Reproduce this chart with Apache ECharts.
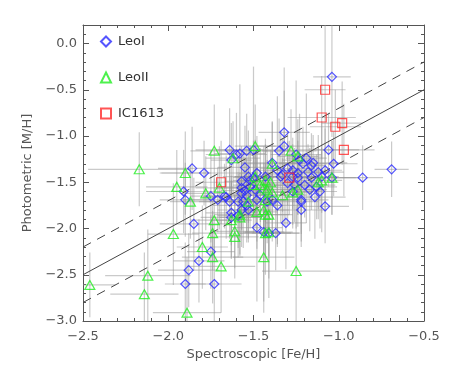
<!DOCTYPE html>
<html>
<head>
<meta charset="utf-8">
<script src="https://cdn.jsdelivr.net/npm/echarts@6/dist/echarts.min.js"></script>
<style>html,body{margin:0;padding:0;background:#fff;}#c{width:449px;height:374px;}</style>
</head>
<body>
<div id="c"></div>
<script>
// [FeH_spec, MH_phot, errX, errY]
const leoI = [
[-1.04,-0.36,0.11,0.65],[-1.32,-0.96,0.15,0.45],[-0.86,-1.45,0.12,0.35],[-0.69,-1.36,0.10,0.30],
[-1.06,-1.15,0.18,0.40],[-1.03,-1.30,0.14,0.35],[-1.64,-1.15,0.20,0.45],[-1.58,-1.19,0.15,0.75],
[-1.54,-1.16,0.12,0.40],[-1.50,-1.15,0.22,0.90],[-1.32,-1.11,0.18,0.85],[-1.35,-1.16,0.10,0.35],
[-1.25,-1.20,0.15,0.80],[-1.19,-1.24,0.12,0.70],[-1.15,-1.29,0.20,0.30],[-1.23,-1.26,0.10,0.50],
[-1.16,-1.32,0.08,0.35],[-1.21,-1.30,0.14,0.40],[-1.39,-1.29,0.18,0.45],[-1.36,-1.37,0.12,0.80],
[-1.30,-1.35,0.16,0.40],[-1.27,-1.37,0.10,0.35],[-1.24,-1.40,0.20,0.45],[-1.18,-1.39,0.12,0.30],
[-1.12,-1.39,0.15,0.40],[-1.08,-1.37,0.10,0.45],[-1.34,-1.44,0.22,0.50],[-1.24,-1.45,0.12,0.40],
[-1.16,-1.45,0.18,0.35],[-1.10,-1.44,0.10,0.60],[-1.04,-1.45,0.14,0.40],[-1.55,-1.34,0.16,0.45],
[-1.63,-1.26,0.12,0.40],[-1.79,-1.40,0.25,0.35],[-1.86,-1.35,0.20,0.45],[-1.53,-1.44,0.15,0.50],
[-1.48,-1.40,0.12,0.40],[-1.43,-1.44,0.18,0.35],[-1.91,-1.60,0.22,0.45],[-1.90,-1.69,0.15,0.40],
[-1.75,-1.65,0.12,0.50],[-1.71,-1.69,0.20,0.35],[-1.66,-1.66,0.14,0.45],[-1.64,-1.71,0.18,0.40],
[-1.57,-1.49,0.10,0.35],[-1.57,-1.56,0.16,0.45],[-1.54,-1.64,0.12,0.40],[-1.56,-1.71,0.20,0.50],
[-1.57,-1.80,0.14,0.40],[-1.53,-1.80,0.10,0.35],[-1.63,-1.88,0.18,0.45],[-1.48,-1.99,0.15,0.80],
[-1.44,-2.04,0.12,0.75],[-1.46,-1.64,0.16,0.35],[-1.42,-1.71,0.10,0.45],[-1.50,-1.45,0.12,0.40],
[-1.52,-1.55,0.18,0.45],[-1.55,-1.59,0.14,0.35],[-1.49,-1.58,0.10,0.40],[-1.48,-1.69,0.16,0.45],
[-1.59,-1.71,0.12,0.50],[-1.54,-1.75,0.20,0.40],[-1.63,-1.83,0.15,0.35],[-1.59,-1.86,0.12,0.45],
[-1.37,-2.05,0.14,0.40],[-1.41,-2.05,0.18,0.70],[-1.31,-1.94,0.12,0.50],[-1.22,-1.80,0.15,0.40],
[-1.22,-1.71,0.10,0.35],[-1.14,-1.66,0.18,0.45],[-1.08,-1.76,0.14,0.40],[-1.13,-1.55,0.12,0.35],
[-1.36,-1.75,0.16,0.45],[-1.85,-1.95,0.20,0.50],[-1.82,-2.35,0.15,0.45],[-1.88,-2.45,0.18,0.40],
[-1.90,-2.60,0.12,0.45],[-1.73,-2.60,0.16,0.50],[-1.75,-2.25,0.14,0.40],[-1.67,-1.65,0.12,0.35],
[-1.39,-1.69,0.15,0.45],[-1.27,-1.60,0.12,0.40],[-1.11,-1.60,0.10,0.40],[-1.22,-1.69,0.16,0.45],
[-1.33,-1.42,0.12,0.40],[-1.27,-1.44,0.14,0.35],[-1.60,-1.20,0.18,0.45],[-1.57,-1.62,0.12,0.40],
[-1.52,-1.48,0.10,0.35],[-1.30,-1.51,0.15,0.45],[-1.26,-1.53,0.12,0.40],[-1.20,-1.53,0.18,0.35],
[-1.17,-1.58,0.10,0.45]
];
const leoII = [
[-2.46,-2.61,0.15,0.35],[-2.14,-2.71,0.20,0.45],[-2.12,-2.51,0.25,0.50],[-2.17,-1.36,0.30,0.40],
[-1.97,-2.06,0.15,0.55],[-1.89,-2.91,0.20,0.60],[-1.87,-1.71,0.12,0.40],[-1.80,-2.20,0.15,0.45],
[-1.74,-2.31,0.18,0.50],[-1.74,-2.05,0.12,0.40],[-1.73,-1.91,0.14,0.45],[-1.69,-2.41,0.20,0.50],
[-1.78,-1.62,0.12,0.40],[-1.90,-1.40,0.15,0.45],[-1.95,-1.55,0.18,0.40],[-1.73,-1.16,0.14,0.50],
[-1.49,-1.11,0.12,0.45],[-1.62,-1.24,0.16,0.40],[-1.28,-1.16,0.15,0.45],[-1.24,-1.22,0.12,0.40],
[-1.39,-1.30,0.18,0.45],[-1.04,-1.45,0.15,0.40],[-1.10,-1.48,0.12,0.35],[-1.61,-2.09,0.14,0.45],
[-1.61,-2.03,0.12,0.40],[-1.44,-2.31,0.18,0.60],[-1.25,-2.46,0.20,0.70],[-1.43,-2.05,0.15,0.45],
[-1.63,-1.91,0.12,0.40],[-1.43,-1.85,0.16,0.45],[-1.48,-1.82,0.12,0.40],[-1.58,-1.85,0.15,0.45],
[-1.33,-1.64,0.14,0.40],[-1.27,-1.61,0.12,0.35],[-1.39,-1.61,0.16,0.45],[-1.49,-1.44,0.12,0.40],
[-1.43,-1.48,0.15,0.45],[-1.46,-1.53,0.12,0.40],[-1.40,-1.50,0.14,0.35],[-1.42,-1.58,0.16,0.45],
[-1.43,-1.69,0.12,0.40],[-1.44,-1.80,0.15,0.45],[-1.12,-1.50,0.12,0.40],[-1.70,-1.56,0.14,0.45],
[-1.53,-1.71,0.12,0.40],[-1.44,-1.56,0.16,0.45],[-1.50,-1.53,0.12,0.35],[-1.24,-1.58,0.15,0.40],
[-1.41,-1.85,0.12,0.45],[-1.41,-2.04,0.14,0.50],[-1.58,-1.88,0.12,0.40]
];
const ic1613 = [
[-1.08,-0.50,0.12,0.90],[-1.10,-0.80,0.20,0.45],[-1.02,-0.90,0.15,0.40],[-0.98,-0.86,0.12,0.45],
[-0.97,-1.15,0.18,0.50],[-1.29,-1.45,0.12,0.40],[-1.69,-1.50,0.15,0.45]
];
const seriesNames = ['LeoI','LeoII','IC1613'];
const oneToOne = [[-2.5,-2.5],[-0.5,-0.5]];
const upperLine = [[-2.5,-2.2],[-0.5,-0.2]];
const lowerLine = [[-2.5,-2.8],[-0.5,-0.8]];
const xTicks = [-2.5,-2.0,-1.5,-1.0,-0.5];
const yTicks = [-3.0,-2.5,-2.0,-1.5,-1.0,-0.5,0.0];
const yMinorTicks = [-2.9,-2.8,-2.7,-2.6,-2.4,-2.3,-2.2,-2.1,-1.9,-1.8,-1.7,-1.6,-1.4,-1.3,-1.2,-1.1,-0.9,-0.8,-0.7,-0.6,-0.4,-0.3,-0.2,-0.1,0.1];

const AX = '#555';
const FONT = 'DejaVu Sans';
const fmt = v => (Math.abs(v) < 1e-9 ? '0.0' : v.toFixed(1).replace('-', '\u2212'));

const chart = echarts.init(document.getElementById('c'), null, {renderer:'canvas'});

function errBars(data){
  return {
    type:'custom', xAxisIndex:0, yAxisIndex:0, silent:true, clip:true, z:1,
    encode:{x:0, y:1},
    data:data,
    renderItem:function(params, api){
      const x=api.value(0), y=api.value(1), ex=api.value(2), ey=api.value(3);
      const a=api.coord([x-ex,y]), b=api.coord([x+ex,y]);
      const c=api.coord([x,y-ey]), d=api.coord([x,y+ey]);
      const st={stroke:'rgba(150,150,150,0.5)', lineWidth:1.2};
      return {type:'group', children:[
        {type:'line', shape:{x1:a[0],y1:a[1],x2:b[0],y2:b[1]}, style:st},
        {type:'line', shape:{x1:c[0],y1:c[1],x2:d[0],y2:d[1]}, style:st}
      ]};
    }
  };
}
function refLine(data, dashed){
  return {type:'line', xAxisIndex:0, yAxisIndex:0, data:data, symbol:'none', silent:true, z:2,
    lineStyle:{color:'#444', width:1, type: dashed ? [9,7] : 'solid'}, animation:false};
}
function pts(name, data, symbol, size, color){
  return {type:'scatter', name:name, xAxisIndex:0, yAxisIndex:0, data:data.map(d=>[d[0],d[1]]),
    symbol:symbol, symbolSize:size, z:3,
    itemStyle:{color:'rgba(255,255,255,0)', borderColor:color, borderWidth:1.2}};
}

const xBase = {type:'value', min:-2.5, max:-0.5, interval:0.5, splitLine:{show:false},
  axisLine:{show:true, onZero:false, lineStyle:{color:AX, width:1}},
  axisTick:{show:true, inside:true, length:6, lineStyle:{color:AX}},
  minorTick:{show:true, splitNumber:5, length:3, lineStyle:{color:AX}}};
const yBase = {type:'value', min:-3.0, max:0.2, interval:0.5, splitLine:{show:false},
  axisLine:{show:true, onZero:false, lineStyle:{color:AX, width:1}}};

chart.setOption({
  animation:false,
  backgroundColor:'#fff',
  grid:{left:83, right:25, top:25, bottom:53, containLabel:false},
  legend:{data:seriesNames, orient:'vertical', left:95, top:30, itemGap:23, itemWidth:10, itemHeight:10,
    textStyle:{fontFamily:FONT, fontSize:13, color:'#333', padding:[0,0,0,2]}},
  xAxis:[
    Object.assign({}, xBase, {position:'bottom',
      axisLabel:{show:true, formatter:fmt, fontFamily:FONT, fontSize:13, color:AX, margin:9},
      name:'Spectroscopic [Fe/H]', nameLocation:'middle', nameGap:27,
      nameTextStyle:{fontFamily:FONT, fontSize:13, color:AX}}),
    Object.assign({}, xBase, {position:'top', axisLabel:{show:false}})
  ],
  yAxis:[
    Object.assign({}, yBase, {position:'left',
      axisTick:{show:true, inside:true, length:6, lineStyle:{color:AX}, customValues:yTicks},
      axisLabel:{show:true, customValues:yTicks, fontFamily:FONT, fontSize:13, color:AX, margin:6,
        formatter:function(v){ const r=Math.round(v*2)/2; return Math.abs(r-v)<1e-6 && v<=0.001 ? fmt(v) : ''; }},
      name:'Photometric [M/H]', nameLocation:'middle', nameGap:46,
      nameTextStyle:{fontFamily:FONT, fontSize:13, color:AX}}),
    Object.assign({}, yBase, {position:'left', axisLine:{show:false}, axisLabel:{show:false},
      axisTick:{show:true, inside:true, length:3, lineStyle:{color:AX}, customValues:yMinorTicks}}),
    Object.assign({}, yBase, {position:'right', axisLabel:{show:false},
      axisTick:{show:true, inside:true, length:6, lineStyle:{color:AX}, customValues:yTicks}}),
    Object.assign({}, yBase, {position:'right', axisLine:{show:false}, axisLabel:{show:false},
      axisTick:{show:true, inside:true, length:3, lineStyle:{color:AX}, customValues:yMinorTicks}})
  ],
  series:[
    errBars(leoI), errBars(leoII), errBars(ic1613),
    refLine(oneToOne,false), refLine(upperLine,true), refLine(lowerLine,true),
    pts('LeoI', leoI, 'diamond', [9,9], '#2a2aff'),
    pts('LeoII', leoII, 'triangle', [10,9], '#22ee22'),
    pts('IC1613', ic1613, 'rect', [9,9], '#ff2a2a')
  ]
});
</script>
</body>
</html>
